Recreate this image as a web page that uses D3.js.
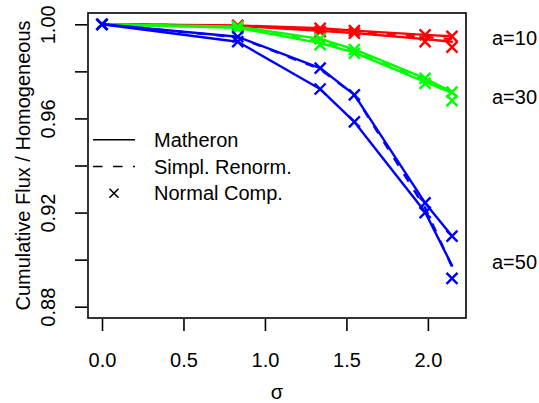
<!DOCTYPE html>
<html>
<head>
<meta charset="utf-8">
<script src="https://cdn.jsdelivr.net/npm/d3@7"></script>
<style>
  html, body { margin: 0; padding: 0; background: #fff; }
  svg { display: block; }
  text { font-family: "Liberation Sans", Arial, Helvetica, sans-serif; fill: #000; }
</style>
</head>
<body>
<div id="chart"></div>
<script>
// ---- data ----
const sigma = [0, 0.833, 1.339, 1.549, 1.983, 2.148];
const groups = ["a=10", "a=30", "a=50"];
const labelAt = [0.9941, 0.9692, 0.8990];

// a = 10
const comp1_10    = [1, 0.9995, 0.9983, 0.9973, 0.9955, 0.9949];
const matheron10  = [1, 0.9993, 0.9972, 0.9963, 0.9937, 0.9926];
const renorm10    = [1, 0.9994, 0.9978, 0.9968, 0.9946, 0.9937];
const comp2_10    = [1, 0.9993, 0.9969, 0.9962, 0.9926, 0.9903];
// a = 30
const comp1_30    = [1, 0.9990, 0.9938, 0.9893, 0.9770, 0.9712];
const matheron30  = [1, 0.9985, 0.9920, 0.9880, 0.9755, 0.9708];
const renorm30    = [1, 0.9987, 0.9928, 0.9885, 0.9760, 0.9705];
const comp2_30    = [1, 0.9982, 0.9914, 0.9877, 0.9749, 0.9676];
// a = 50
const comp1_50    = [1, 0.9947, 0.9814, 0.9700, 0.9241, 0.9100];
const matheron50  = [1, 0.9926, 0.9725, 0.9585, 0.9202, 0.8975];
const renorm50    = [1, 0.9945, 0.9810, 0.9700, 0.9220, 0.8970];
const comp2_50    = [1, 0.9926, 0.9725, 0.9585, 0.9200, 0.8920];

const xTicks = [0, 0.5, 1.0, 1.5, 2.0];
const yTicks = [0.88, 0.90, 0.92, 0.94, 0.96, 0.98, 1.00];
const yLabelTicks = [0.88, 0.92, 0.96, 1.00];
const legendLabels = ["Matheron", "Simpl. Renorm.", "Normal Comp."];

// ---- layout ----
const W = 539, H = 403;
const L = 88, R = 466, T = 13, B = 318;
const colors = ["#FF0000", "#00FF00", "#0000FF"];

const xmax = d3.max(sigma), xpad = 0.04 * xmax;
const x = d3.scaleLinear().domain([0 - xpad, xmax + xpad]).range([L, R]);
const ylo = 0.88, yhi = 1.00, ypad = 0.04 * (yhi - ylo);
const y = d3.scaleLinear().domain([ylo - ypad, yhi + ypad]).range([B, T]);

const svg = d3.select("#chart").append("svg").attr("width", W).attr("height", H);

const sets = [
  {comp1: comp1_10, mat: matheron10, ren: renorm10, comp2: comp2_10},
  {comp1: comp1_30, mat: matheron30, ren: renorm30, comp2: comp2_30},
  {comp1: comp1_50, mat: matheron50, ren: renorm50, comp2: comp2_50}
];

const line = d3.line().x((d, i) => x(sigma[i])).y(d => y(d));
const plot = svg.append("g");

function cross(g, cx, cy, s, color, w) {
  g.append("path")
    .attr("d", `M${cx - s},${cy - s}L${cx + s},${cy + s}M${cx - s},${cy + s}L${cx + s},${cy - s}`)
    .attr("stroke", color).attr("stroke-width", w).attr("fill", "none");
}

sets.forEach((s, k) => {
  const c = colors[k];
  const g = plot.append("g");
  g.append("path").attr("d", line(s.comp1)).attr("fill", "none")
    .attr("stroke", c).attr("stroke-width", 2.4).attr("stroke-linecap", "round").attr("stroke-linejoin", "round");
  g.append("path").attr("d", line(s.mat)).attr("fill", "none")
    .attr("stroke", c).attr("stroke-width", 2.4).attr("stroke-linecap", "round").attr("stroke-linejoin", "round");
  g.append("path").attr("d", line(s.ren)).attr("fill", "none")
    .attr("stroke", c).attr("stroke-width", 2.4).attr("stroke-dasharray", "9,10").attr("stroke-linejoin", "round");
  s.comp1.forEach((v, i) => cross(g, x(sigma[i]), y(v), 5.5, c, 2.4));
  s.comp2.forEach((v, i) => cross(g, x(sigma[i]), y(v), 5.5, c, 2.4));
});

// box
svg.append("rect").attr("x", L).attr("y", T).attr("width", R - L).attr("height", B - T)
  .attr("fill", "none").attr("stroke", "#000").attr("stroke-width", 1.6);

// x axis
const xAxis = svg.append("g").attr("transform", `translate(0,${B})`)
  .call(d3.axisBottom(x).tickValues(xTicks).tickSize(13).tickPadding(0).tickFormat(d3.format(".1f")));
xAxis.select(".domain").remove();
xAxis.selectAll(".tick line").attr("stroke", "#000").attr("stroke-width", 1.6).attr("y1", 1);
xAxis.selectAll(".tick text").attr("font-size", 20).attr("y", 0).attr("dy", 0)
  .attr("transform", "translate(0,49)").style("font-family", "Liberation Sans, Arial, sans-serif");

// y axis
const yAxis = svg.append("g").attr("transform", `translate(${L},0)`)
  .call(d3.axisLeft(y).tickValues(yTicks).tickSize(13).tickFormat(d => yLabelTicks.some(t => Math.abs(t - d) < 1e-9) ? d3.format(".2f")(d) : ""));
yAxis.select(".domain").remove();
yAxis.selectAll(".tick line").attr("stroke", "#000").attr("stroke-width", 1.6).attr("x1", -1);
yAxis.selectAll(".tick text").attr("font-size", 20).attr("x", 0).attr("dy", 0)
  .attr("text-anchor", "middle")
  .attr("transform", "translate(-33,0) rotate(-90)")
  .style("font-family", "Liberation Sans, Arial, sans-serif");

// axis titles
svg.append("text").attr("x", (L + R) / 2).attr("y", 399).attr("text-anchor", "middle")
  .attr("font-size", 20).text("σ");
svg.append("text").attr("transform", `translate(30,${(T + B) / 2}) rotate(-90)`)
  .attr("text-anchor", "middle").attr("font-size", 20).text("Cumulative Flux / Homogeneous");

// right labels
groups.forEach((g, k) => {
  svg.append("text").attr("x", 492).attr("y", y(labelAt[k]) + 7)
    .attr("font-size", 20).text(g);
});

// legend
const leg = svg.append("g");
const rowY = [139.7, 166.5, 193.3];
leg.append("line").attr("x1", 93).attr("x2", 135).attr("y1", rowY[0]).attr("y2", rowY[0])
  .attr("stroke", "#000").attr("stroke-width", 1.6);
leg.append("line").attr("x1", 93).attr("x2", 135).attr("y1", rowY[1]).attr("y2", rowY[1])
  .attr("stroke", "#000").attr("stroke-width", 1.6).attr("stroke-dasharray", "9.5,10.5");
cross(leg, 114, rowY[2], 4.5, "#000", 1.6);
legendLabels.forEach((t, i) => {
  leg.append("text").attr("x", 154).attr("y", rowY[i] + 7).attr("font-size", 20).text(t);
});
</script>
</body>
</html>
